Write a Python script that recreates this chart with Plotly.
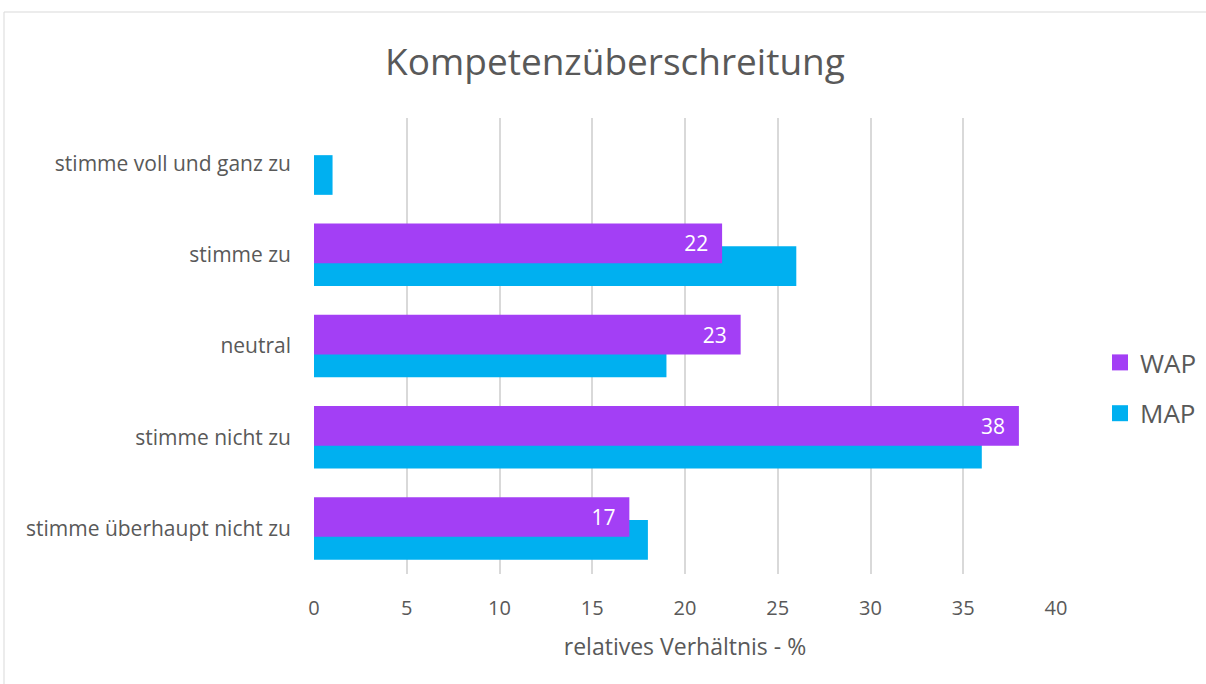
import plotly.graph_objects as go

categories = ["stimme überhaupt nicht zu", "stimme nicht zu", "neutral", "stimme zu", "stimme voll und ganz zu"]
wap = [17, 38, 23, 22, None]
map_ = [18, 36, 19, 26, 1]
xticks = [0, 5, 10, 15, 20, 25, 30, 35, 40]

FONT = "Open Sans"
GRAY = "#595959"
PURPLE = "#A33FF5"
BLUE = "#00B0F0"
BW = 0.435

W, H = 1206, 684
L, R, T, B = 314, 1056, 118, 574
PW, PH = R - L, B - T

fig = go.Figure()
fig.add_trace(go.Bar(
    y=categories, x=map_, orientation="h", name="MAP",
    marker=dict(color=BLUE, line=dict(width=0)),
    width=BW, offset=-0.125 - BW / 2, showlegend=False,
))
fig.add_trace(go.Bar(
    y=categories, x=wap, orientation="h", name="WAP",
    marker=dict(color=PURPLE, line=dict(width=0)),
    width=BW, offset=0.125 - BW / 2, showlegend=False,
    text=[("" if v is None else str(v) + "\u00a0\u00a0") for v in wap],
    textposition="inside", insidetextanchor="end",
    textfont=dict(color="white", size=21, family=FONT),
))
# legend entries
fig.add_trace(go.Scatter(x=[None], y=[None], mode="markers", name="WAP",
                         marker=dict(symbol="square", size=16, color=PURPLE),
                         legendgroup="a", legendrank=1))
fig.add_trace(go.Scatter(x=[None], y=[None], mode="markers", name="MAP",
                         marker=dict(symbol="square", size=16, color=BLUE),
                         legendgroup="b", legendrank=2))

fig.update_layout(
    width=W, height=H,
    barmode="overlay",
    paper_bgcolor="white", plot_bgcolor="white",
    margin=dict(l=L, r=W - R, t=T, b=H - B, autoexpand=False),
    font=dict(family=FONT, color=GRAY, size=21),
    title=dict(text="Kompetenzüberschreitung", x=615 / W, xanchor="center",
               xref="container", yref="container", y=1 - 62 / H, yanchor="middle",
               font=dict(size=37, color=GRAY, family=FONT)),
    xaxis=dict(range=[0, 40], tickvals=xticks, showgrid=True, gridcolor="#D9D9D9",
               gridwidth=2, zeroline=False, showline=False,
               ticklabelstandoff=20,
               tickfont=dict(size=20, color=GRAY),
               title=dict(text="relatives Verhältnis - %", font=dict(size=23, color=GRAY), standoff=18)),
    yaxis=dict(type="category", categoryorder="array", categoryarray=categories,
               range=[-0.5, 4.5], showgrid=False, zeroline=False, showline=False,
               ticks="", ticklabelstandoff=22,
               tickfont=dict(size=21, color=GRAY)),
    legend=dict(x=(1100 - L) / PW, xanchor="left", y=(B - 388) / PH, yanchor="middle",
                font=dict(size=26, color=GRAY), itemwidth=30, itemsizing="trace",
                tracegroupgap=14, bgcolor="rgba(0,0,0,0)"),
    showlegend=True,
    shapes=[dict(type="rect", xref="paper", yref="paper",
                 x0=(4 - L) / PW, x1=(W + 10 - L) / PW,
                 y0=(B - (H + 10)) / PH, y1=(B - 12) / PH,
                 line=dict(color="#D9D9D9", width=1), layer="below")],
)
fig.write_html("out.html", config={"displayModeBar": False},
               post_script="document.body.style.margin='0px';document.body.style.overflow='hidden';")
